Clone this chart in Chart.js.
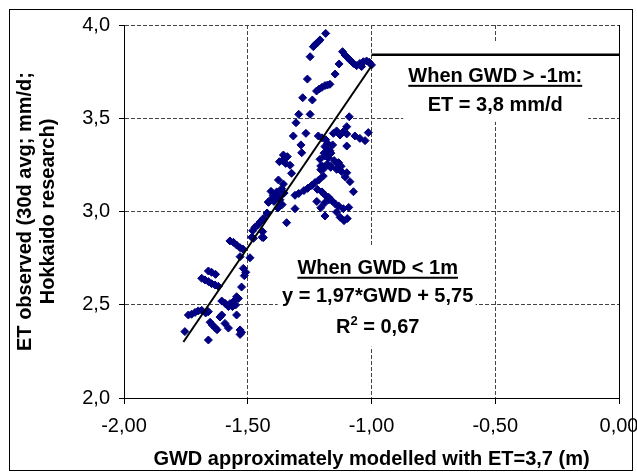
<!DOCTYPE html>
<html>
<head>
<meta charset="utf-8">
<script src="https://cdn.jsdelivr.net/npm/chart.js@4.4.1/dist/chart.umd.min.js"></script>
<style>
  html, body { margin: 0; padding: 0; background: #fff; }
  #wrap { width: 637px; height: 473px; }
</style>
</head>
<body>
<div id="wrap"><canvas id="etChart" width="637" height="473"></canvas></div>
<script>
// observed points (GWD in m, ET in mm/d)
const gwd = [
  -1.185, -1.208, -1.217, -1.227, -1.235, -1.248,
  -1.117, -1.107, -1.098, -1.087, -1.073, -1.060, -1.047, -1.033, -1.020, -1.009, -1.000, -1.040,
  -1.131, -1.147, -1.168, -1.178, -1.188, -1.200, -1.211, -1.222,
  -1.259, -1.278, -1.239, -1.294, -1.248, -1.305, -1.090,
  -1.316, -1.265, -1.215, -1.154, -1.141, -1.127, -1.114, -1.100, -1.067, -1.047, -1.026, -1.013,
  -1.285, -1.282, -1.178, -1.184, -1.168, -1.157, -1.100,
  -1.356, -1.340, -1.372, -1.360, -1.347, -1.329, -1.323,
  -1.208, -1.188, -1.174, -1.151, -1.133, -1.205, -1.192, -1.178, -1.165, -1.141, -1.121, -1.100,
  -1.376, -1.195, -1.213, -1.228, -1.242, -1.258, -1.273, -1.294, -1.309,
  -1.356, -1.363, -1.383, -1.397, -1.403, -1.417, -1.390, -1.372,
  -1.087, -1.073, -1.219, -1.200, -1.187, -1.173, -1.160, -1.146, -1.133, -1.114, -1.092,
  -1.309, -1.188, -1.141, -1.127, -1.111, -1.098, -1.343,
  -1.437, -1.450, -1.461, -1.471, -1.480, -1.484, -1.440, -1.442,
  -1.221, -1.205, -1.190, -1.172, -1.164, -1.139, -1.123, -1.106,
  -1.422, -1.416, -1.394, -1.370, -1.361, -1.378, -1.353, -1.406,
  -1.200, -1.185, -1.100,
  -1.188, -1.192, -1.180, -1.197, -1.205, -1.164,
  -1.572, -1.558, -1.545, -1.531, -1.520, -1.477, -1.437, -1.531, -1.491,
  -1.518, -1.508, -1.514, -1.659, -1.646, -1.630,
  -1.686, -1.673, -1.659, -1.646, -1.632, -1.619, -1.525,
  -1.545, -1.538, -1.558, -1.572, -1.592, -1.578, -1.562, -1.549, -1.605,
  -1.740, -1.727, -1.713, -1.700, -1.686, -1.670, -1.659, -1.605, -1.612, -1.545,
  -1.652, -1.643, -1.632, -1.624, -1.592, -1.578,
  -1.754, -1.659, -1.531, -1.525, -1.531
];
const etObserved = [
  3.955, 3.920, 3.907, 3.896, 3.884, 3.830,
  3.857, 3.839, 3.827, 3.812, 3.794, 3.782, 3.794, 3.803, 3.807, 3.800, 3.786, 3.777,
  3.791, 3.737, 3.682, 3.678, 3.675, 3.666, 3.657, 3.646,
  3.710, 3.610, 3.598, 3.521, 3.521, 3.476, 3.508,
  3.405, 3.419, 3.405, 3.419, 3.432, 3.410, 3.428, 3.416, 3.405, 3.392, 3.380, 3.423,
  3.357, 3.315, 3.366, 3.344, 3.326, 3.357, 3.351,
  3.303, 3.294, 3.267, 3.273, 3.258, 3.248, 3.205,
  3.280, 3.298, 3.290, 3.273, 3.262, 3.244, 3.231, 3.255, 3.237, 3.226, 3.214, 3.208,
  3.169, 3.190, 3.169, 3.155, 3.140, 3.124, 3.112, 3.097, 3.087,
  3.147, 3.122, 3.105, 3.087, 3.069, 3.051, 3.062, 3.076,
  3.160, 3.106, 3.119, 3.105, 3.087, 3.076, 3.058, 3.040, 3.030, 3.015, 3.022,
  3.015, 2.976, 2.997, 2.969, 2.951, 2.962, 2.940,
  2.963, 2.944, 2.926, 2.915, 2.897, 2.862, 2.892, 2.862,
  3.054, 3.020, 3.045, 3.063, 3.313, 3.260, 3.242, 3.185,
  2.992, 3.049, 3.054, 3.063, 3.037, 3.019, 3.099, 3.108,
  3.395, 3.385, 3.455,
  3.349, 3.313, 3.295, 3.242, 3.224, 3.242,
  2.842, 2.835, 2.820, 2.806, 2.799, 2.856, 2.860, 2.758, 2.752,
  2.695, 2.674, 2.656, 2.681, 2.674, 2.663,
  2.642, 2.633, 2.624, 2.613, 2.606, 2.599, 2.595,
  2.543, 2.534, 2.517, 2.506, 2.508, 2.490, 2.490, 2.499, 2.520,
  2.445, 2.449, 2.459, 2.467, 2.470, 2.456, 2.463, 2.445, 2.434, 2.445,
  2.406, 2.391, 2.377, 2.366, 2.400, 2.375,
  2.356, 2.311, 2.365, 2.352, 2.341
];

// regression line (GWD < -1 m) and the constant ET above -1 m
const fitGwd = [-1.76, -1.00];
const fitEt = [2.30, 3.78];
const capGwd = [-1.00, 0.00];
const capEt = [3.84, 3.84];

const xTicks = [-2, -1.5, -1, -0.5, 0];
const yTicks = [2, 2.5, 3, 3.5, 4];

const upperNote = ['When GWD > -1m:', 'ET = 3,8 mm/d'];
const lowerNote = ['When GWD < 1m', 'y = 1,97*GWD + 5,75'];
const lowerR2 = ['R', '2', ' = 0,67'];

const FONT = '"Liberation Sans", Arial, sans-serif';
Chart.defaults.font.family = FONT;
Chart.defaults.color = '#000';

const toXY = (xs, ys) => xs.map((v, i) => ({ x: v, y: ys[i] }));
const comma = (v, d) => v.toFixed(d).replace('.', ',');

function underlinedText(ctx, text, cx, y) {
  const w = ctx.measureText(text).width;
  ctx.fillText(text, cx, y);
  ctx.fillRect(cx - w / 2, y + 3, w, 2);
}

const notesPlugin = {
  id: 'notes',
  beforeDraw(chart) {
    const ctx = chart.ctx;
    ctx.save();
    ctx.fillStyle = '#fff';
    ctx.fillRect(0, 0, chart.width, chart.height);
    ctx.restore();
  },
  beforeDatasetsDraw(chart) {
    // white text boxes hide the grid behind the notes
    const { ctx, scales: { x, y } } = chart;
    const cx1 = x.getPixelForValue(-0.5), cy1 = y.getPixelForValue(3.84);
    const cx2 = x.getPixelForValue(-0.975), cy2 = y.getPixelForValue(2.5);
    ctx.save();
    ctx.fillStyle = '#fff';
    ctx.fillRect(cx1 - 92, cy1 - 13, 185, 80);
    ctx.fillRect(cx2 - 100, cy2 - 58, 198, 100);
    ctx.restore();
  },
  afterDatasetsDraw(chart) {
    const { ctx, chartArea: a, scales: { x, y } } = chart;
    ctx.save();
    // solid right edge of the plot area
    ctx.strokeStyle = '#000';
    ctx.lineWidth = 1;
    ctx.beginPath();
    ctx.moveTo(Math.round(a.right) + 0.5, a.top);
    ctx.lineTo(Math.round(a.right) + 0.5, a.bottom);
    ctx.stroke();

    ctx.fillStyle = '#000';
    ctx.textAlign = 'center';
    ctx.textBaseline = 'alphabetic';
    ctx.font = 'bold 20px ' + FONT;

    const cx1 = x.getPixelForValue(-0.5), cy1 = y.getPixelForValue(3.84);
    underlinedText(ctx, upperNote[0], cx1, cy1 + 27);
    ctx.fillText(upperNote[1], cx1, cy1 + 56);

    const cx2 = x.getPixelForValue(-0.975), cy2 = y.getPixelForValue(2.5);
    underlinedText(ctx, lowerNote[0], cx2, cy2 - 31);
    ctx.fillText(lowerNote[1], cx2, cy2 - 3);

    // R² with a raised 2
    ctx.textAlign = 'left';
    const wR = ctx.measureText(lowerR2[0]).width;
    const wTail = ctx.measureText(lowerR2[2]).width;
    ctx.font = 'bold 13px ' + FONT;
    const wSup = ctx.measureText(lowerR2[1]).width;
    const sx = cx2 - (wR + wSup + wTail) / 2;
    const by = cy2 + 28;
    ctx.font = 'bold 20px ' + FONT;
    ctx.fillText(lowerR2[0], sx, by);
    ctx.font = 'bold 13px ' + FONT;
    ctx.fillText(lowerR2[1], sx + wR, by - 8);
    ctx.font = 'bold 20px ' + FONT;
    ctx.fillText(lowerR2[2], sx + wR + wSup, by);

    // frame around the whole figure
    ctx.strokeStyle = '#000';
    ctx.strokeRect(9.5, 9.5, 623, 461);
    ctx.restore();
  }
};

new Chart(document.getElementById('etChart'), {
  type: 'scatter',
  data: {
    datasets: [
      {
        label: 'fit',
        data: toXY(fitGwd, fitEt),
        showLine: true,
        borderColor: '#000',
        borderWidth: 2,
        pointRadius: 0,
        order: 0
      },
      {
        label: 'cap',
        data: toXY(capGwd, capEt),
        showLine: true,
        borderColor: '#000',
        borderWidth: 2.5,
        pointRadius: 0,
        order: 0
      },
      {
        label: 'observed',
        data: toXY(gwd, etObserved),
        pointStyle: 'rectRot',
        pointRadius: 4,
        backgroundColor: '#000080',
        borderColor: '#000080',
        borderWidth: 1,
        order: 1
      }
    ]
  },
  options: {
    responsive: false,
    animation: false,
    devicePixelRatio: 1,
    layout: { padding: { left: 0, top: 25, right: 18, bottom: 0 } },
    plugins: { legend: { display: false }, tooltip: { enabled: false } },
    scales: {
      x: {
        type: 'linear',
        min: xTicks[0],
        max: xTicks[xTicks.length - 1],
        afterBuildTicks: (s) => { s.ticks = xTicks.map(v => ({ value: v })); },
        afterFit: (s) => { s.height = 75; s.paddingLeft = 0; s.paddingRight = 0; },
        ticks: {
          callback: (v) => comma(v, 2),
          font: { size: 20 },
          color: '#000',
          padding: 10,
          maxRotation: 0
        },
        grid: { color: '#444', lineWidth: 1, tickLength: 6, tickColor: '#000' },
        border: { display: true, color: '#000', width: 1, dash: [4, 2] },
        title: {
          display: true,
          text: 'GWD approximately modelled with ET=3,7 (m)',
          font: { size: 20, weight: 'bold' },
          color: '#000',
          padding: { top: 0, bottom: 2 }
        }
      },
      y: {
        type: 'linear',
        min: yTicks[0],
        max: yTicks[yTicks.length - 1],
        afterBuildTicks: (s) => { s.ticks = yTicks.map(v => ({ value: v })); },
        afterFit: (s) => { s.width = 124; s.paddingTop = 0; s.paddingBottom = 0; },
        ticks: {
          callback: (v) => comma(v, 1),
          font: { size: 20 },
          color: '#000',
          padding: 9
        },
        grid: { color: '#444', lineWidth: 1, tickLength: 5, tickColor: '#000' },
        border: { display: true, color: '#000', width: 1, dash: [4, 2] },
        title: {
          display: true,
          text: ['ET observed (30d avg; mm/d;', 'Hokkaido research)'],
          font: { size: 20, weight: 'bold', lineHeight: 1.15 },
          color: '#000',
          padding: { top: 14, bottom: 0 }
        }
      }
    }
  },
  plugins: [notesPlugin]
});
</script>
</body>
</html>
